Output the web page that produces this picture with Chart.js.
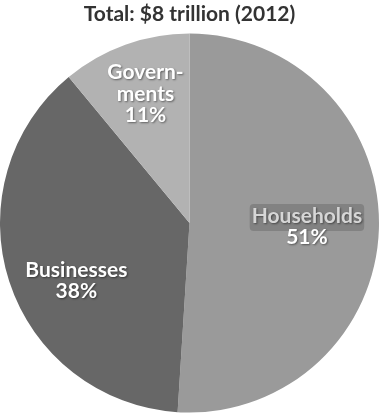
<!DOCTYPE html>
<html>
<head>
<meta charset="utf-8">
<script src="https://cdn.jsdelivr.net/npm/chart.js@4"></script>
<style>
  html, body { margin: 0; padding: 0; background: #fff; }
  #wrap { width: 379px; height: 416px; }
</style>
</head>
<body>
<div id="wrap"><canvas id="pie"></canvas></div>
<script>
// Datos del gráfico
const sectors = ['Households', 'Businesses', 'Governments'];
const shares = [51, 38, 11];
const sectorLines = [['Households'], ['Businesses'], ['Govern-', 'ments']];
const sectorColors = ['#9a9a9a', '#676767', '#b2b2b2'];

// posición de cada etiqueta: ángulo relativo al centro del sector y fracción del radio
const labelSpots = [
  { angle: 0, dist: 0.62 },
  { angle: -9, dist: 0.67 },
  { angle: 1, dist: 0.72 }
];

const sliceLabels = {
  id: 'sliceLabels',
  afterDatasetsDraw(chart) {
    const ctx = chart.ctx;
    const meta = chart.getDatasetMeta(0);
    meta.data.forEach((arc, i) => {
      const p = arc.getProps(['x', 'y', 'startAngle', 'endAngle', 'outerRadius'], true);
      const mid = (p.startAngle + p.endAngle) / 2 + labelSpots[i].angle * Math.PI / 180;
      const r = p.outerRadius * labelSpots[i].dist;
      const cx = p.x + Math.cos(mid) * r;
      const cy = p.y + Math.sin(mid) * r;
      const lines = sectorLines[i].concat([shares[i] + '%']);
      const lh = 21.5;
      const top = cy - (lines.length - 1) * lh / 2;
      ctx.save();
      ctx.font = 'bold 21px Lato';
      ctx.textAlign = 'center';
      ctx.textBaseline = 'middle';
      lines.forEach((txt, k) => {
        const y = top + k * lh;
        if (i === 0 && k === 0) {
          // caja oscura detrás de "Households"
          const w = ctx.measureText(txt).width + 4;
          ctx.fillStyle = '#828282';
          ctx.beginPath();
          ctx.roundRect(cx - w / 2, y - 12, w, 27, 4);
          ctx.fill();
          ctx.fillStyle = '#d6d6d6';
        } else {
          ctx.fillStyle = '#ffffff';
        }
        ctx.shadowColor = 'rgba(0,0,0,0.45)';
        ctx.shadowBlur = 2;
        ctx.shadowOffsetX = 1;
        ctx.shadowOffsetY = 1;
        ctx.fillText(txt, cx, y);
        ctx.shadowColor = 'transparent';
      });
      ctx.restore();
    });
  }
};

new Chart(document.getElementById('pie'), {
  type: 'pie',
  data: {
    labels: sectors,
    datasets: [{
      data: shares,
      backgroundColor: sectorColors,
      borderWidth: 0
    }]
  },
  options: {
    responsive: true,
    maintainAspectRatio: false,
    animation: false,
    layout: { padding: 0 },
    plugins: {
      legend: { display: false },
      tooltip: { enabled: false },
      title: {
        display: true,
        text: 'Total: $8 trillion (2012)',
        color: '#333333',
        font: { family: 'Lato', size: 21, weight: 'bold' },
        padding: { top: 2, bottom: 2.8 }
      }
    }
  },
  plugins: [sliceLabels]
});
</script>
</body>
</html>
